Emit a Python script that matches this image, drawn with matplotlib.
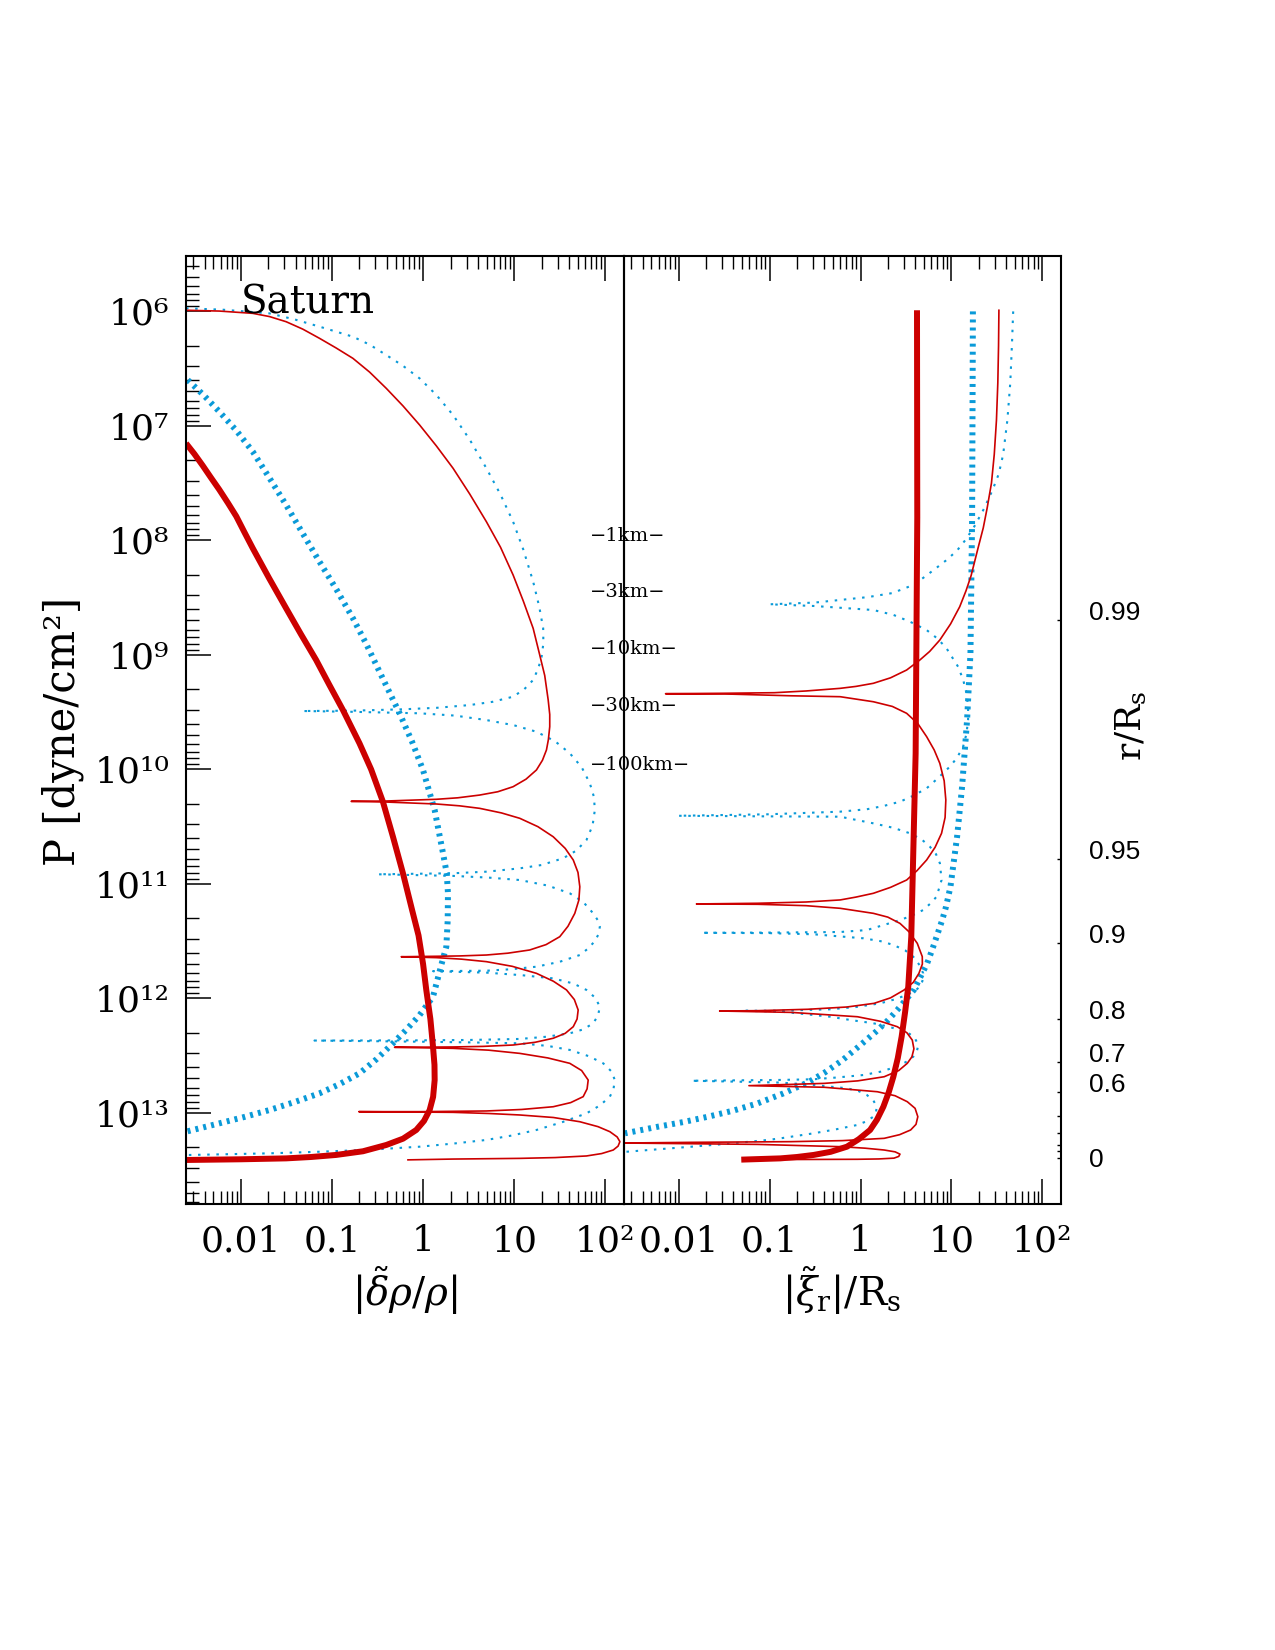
import matplotlib
matplotlib.use('Agg')
import matplotlib.pyplot as plt
import matplotlib.transforms as mtransforms
import numpy as np
from matplotlib.ticker import LogLocator, NullFormatter, NullLocator

plt.rcParams['font.family'] = 'DejaVu Serif'
plt.rcParams['mathtext.fontset'] = 'dejavuserif'

RED = '#cc0000'
BLUE = '#0a9ad8'

# ---- datos: log10 de la abscisa y log10 P [dyne/cm^2] ----
# panel izquierdo |delta rho / rho|
izq_grueso_rojo_x = [-2.602, -2.51, -2.42, -2.33, -2.238, -2.14, -2.05, -1.96, -1.869, -1.69,
                     -1.503, -1.34, -1.174, -1.03, -0.880, -0.698, -0.57, -0.441, -0.33, -0.221,
                     -0.12, -0.05, 0.0, 0.035, 0.08, 0.109, 0.125, 0.127, 0.11, 0.072,
                     0.01, -0.075, -0.22, -0.404, -0.66, -0.954, -1.23, -1.503, -2.0, -2.602]
izq_grueso_rojo_p = [7.152, 7.245, 7.345, 7.45, 7.555, 7.675, 7.79, 7.93, 8.069, 8.33,
                     8.593, 8.82, 9.044, 9.26, 9.481, 9.772, 10.0, 10.282, 10.59, 10.907,
                     11.23, 11.45, 11.70, 11.926, 12.18, 12.422, 12.58, 12.713, 12.86, 12.975,
                     13.07, 13.149, 13.225, 13.28, 13.335, 13.367, 13.385, 13.397, 13.405, 13.411]

izq_grueso_azul_x = [-2.583, -2.41, -2.236, -2.05, -1.869, -1.69, -1.503, -1.32, -1.137, -0.95,
                     -0.770, -0.62, -0.478, -0.258, -0.12, -0.001, 0.127, 0.219, 0.26, 0.273,
                     0.27, 0.255, 0.2, 0.109, -0.038, -0.18, -0.331, -0.51, -0.697, -0.92,
                     -1.137, -1.41, -1.687, -1.96, -2.236, -2.602]
izq_grueso_azul_p = [6.599, 6.73, 6.876, 7.04, 7.225, 7.45, 7.691, 7.94, 8.186, 8.43,
                     8.680, 8.91, 9.147, 9.510, 9.76, 10.005, 10.355, 10.733, 10.91, 11.082,
                     11.32, 11.548, 11.708, 11.985, 12.145, 12.27, 12.392, 12.53, 12.654, 12.75,
                     12.829, 12.905, 12.975, 13.035, 13.091, 13.164]

izq_fino_rojo_x = [-2.602, -2.236, -1.869, -1.686, -1.503, -1.32, -1.137, -0.953, -0.770, -0.587,
                   -0.404, -0.221, -0.038, 0.146, 0.329, 0.512, 0.695, 0.85, 0.988, 1.10,
                   1.208, 1.28, 1.335, 1.373, 1.39, 1.390, 1.375, 1.354, 1.31, 1.244,
                   1.13, 0.988, 0.82, 0.621, 0.38, 0.145, -0.404, -0.789,
                   -0.404, 0.145, 0.40, 0.621, 0.86, 1.061, 1.26, 1.428, 1.56, 1.648,
                   1.70, 1.720, 1.71, 1.665, 1.59, 1.5, 1.35, 1.170, 0.93, 0.695,
                   0.40, 0.145, -0.240,
                   0.145, 0.42, 0.695, 0.98, 1.244, 1.43, 1.574, 1.66, 1.702, 1.69,
                   1.648, 1.56, 1.428, 1.23, 0.988, 0.66, 0.329, -0.313,
                   0.329, 0.72, 1.061, 1.37, 1.610, 1.74, 1.812, 1.80, 1.757, 1.62,
                   1.428, 1.08, 0.695, -0.038, -0.705,
                   0.329, 0.72, 1.061, 1.43, 1.720, 1.92, 2.05, 2.13, 2.16, 2.14,
                   2.087, 1.96, 1.793, 1.45, 1.061, 0.329, -0.166]
izq_fino_rojo_p = [5.990, 5.997, 6.017, 6.045, 6.09, 6.155, 6.235, 6.32, 6.41, 6.53,
                   6.672, 6.825, 6.992, 7.175, 7.37, 7.595, 7.837, 8.06, 8.302, 8.53,
                   8.768, 9.0, 9.18, 9.394, 9.52, 9.627, 9.74, 9.830, 9.92, 10.005,
                   10.085, 10.151, 10.195, 10.224, 10.248, 10.261, 10.276, 10.279,
                   10.285, 10.302, 10.318, 10.34, 10.38, 10.427, 10.50, 10.588, 10.69, 10.791,
                   10.90, 11.025, 11.14, 11.257, 11.37, 11.461, 11.53, 11.577, 11.605, 11.621,
                   11.629, 11.632, 11.636,
                   11.644, 11.657, 11.679, 11.72, 11.781, 11.85, 11.926, 12.01, 12.101, 12.18,
                   12.247, 12.305, 12.348, 12.383, 12.407, 12.419, 12.424, 12.427,
                   12.436, 12.452, 12.48, 12.52, 12.567, 12.63, 12.713, 12.79, 12.858, 12.91,
                   12.946, 12.970, 12.983, 12.989, 12.989,
                   12.995, 13.005, 13.018, 13.04, 13.077, 13.12, 13.164, 13.21, 13.251, 13.29,
                   13.324, 13.355, 13.376, 13.39, 13.397, 13.403, 13.41]

izq_fino_azul_x = [-2.602, -2.2, -1.687, -1.41, -1.137, -0.770, -0.587, -0.404, -0.221, -0.038,
                   0.146, 0.329, 0.512, 0.695, 0.85, 0.988, 1.10, 1.208, 1.275, 1.318,
                   1.32, 1.30, 1.263, 1.208, 1.11, 0.988, 0.76, 0.511, 0.15, -0.221,
                   -0.770, -1.320,
                   -0.770, -0.038, 0.35, 0.695, 1.0, 1.244, 1.45, 1.610, 1.74, 1.830,
                   1.875, 1.885, 1.86, 1.793, 1.68, 1.537, 1.30, 1.061, 0.70, 0.329, -0.496,
                   0.329, 0.72, 1.061, 1.37, 1.610, 1.76, 1.867, 1.92, 1.940, 1.925,
                   1.885, 1.81, 1.72, 1.50, 1.244, 0.97, 0.695, 0.109,
                   0.695, 1.08, 1.428, 1.65, 1.793, 1.89, 1.94, 1.92, 1.867, 1.76,
                   1.61, 1.35, 1.061, 0.5, -0.038, -1.192,
                   -0.038, 0.5, 1.061, 1.37, 1.61, 1.82, 1.977, 2.07, 2.104, 2.09,
                   2.05, 1.94, 1.793, 1.53, 1.244, 0.97, 0.695, 0.33, -0.038, -0.6,
                   -1.137, -1.69, -2.236, -2.602]
izq_fino_azul_p = [5.973, 5.985, 6.017, 6.07, 6.133, 6.221, 6.29, 6.381, 6.475, 6.585,
                   6.73, 6.905, 7.12, 7.37, 7.60, 7.837, 8.08, 8.36, 8.58, 8.768,
                   8.9, 9.02, 9.12, 9.219, 9.30, 9.365, 9.41, 9.438, 9.462, 9.475,
                   9.487, 9.490,
                   9.497, 9.51, 9.53, 9.569, 9.615, 9.671, 9.755, 9.859, 9.98, 10.121,
                   10.24, 10.355, 10.49, 10.617, 10.71, 10.776, 10.835, 10.864, 10.893, 10.907, 10.916,
                   10.93, 10.945, 10.966, 11.015, 11.082, 11.16, 11.257, 11.32, 11.374, 11.44,
                   11.5, 11.565, 11.621, 11.68, 11.723, 11.745, 11.758, 11.762,
                   11.775, 11.797, 11.825, 11.87, 11.926, 11.995, 12.072, 12.15, 12.217, 12.27,
                   12.305, 12.335, 12.354, 12.363, 12.366, 12.368,
                   12.378, 12.384, 12.392, 12.415, 12.45, 12.505, 12.567, 12.64, 12.713, 12.79,
                   12.858, 12.935, 13.004, 13.08, 13.149, 13.198, 13.236, 13.268, 13.295, 13.322,
                   13.339, 13.353, 13.362, 13.368]

# panel derecho |xi_r| / R_s
der_grueso_rojo_x = [0.621, 0.624, 0.606, 0.558, 0.525, 0.49, 0.452, 0.41, 0.361, 0.31,
                     0.251, 0.18, 0.105, -0.02, -0.15, -0.33, -0.516, -0.70, -0.881, -1.312]
der_grueso_rojo_p = [5.99, 7.8, 9.86, 11.461, 11.897, 12.12, 12.334, 12.52, 12.684, 12.82,
                     12.946, 13.06, 13.149, 13.23, 13.295, 13.34, 13.367, 13.385, 13.397, 13.408]

der_grueso_azul_x = [1.236, 1.227, 1.209, 1.172, 1.117, 1.062, 0.989, 0.94, 0.898, 0.843,
                     0.79, 0.733, 0.66, 0.587, 0.50, 0.404, 0.29, 0.17, -0.02, -0.2,
                     -0.39, -0.57, -0.85, -1.13, -1.40, -1.678, -1.95, -2.226, -2.591]
der_grueso_azul_p = [6.0, 7.822, 8.986, 9.568, 10.151, 10.588, 11.025, 11.2, 11.316, 11.446,
                     11.57, 11.694, 11.81, 11.926, 12.01, 12.101, 12.2, 12.29, 12.42, 12.54,
                     12.645, 12.73, 12.83, 12.916, 12.98, 13.033, 13.08, 13.12, 13.178]

der_fino_rojo_x = [1.522, 1.518, 1.51, 1.495, 1.471, 1.44, 1.393, 1.35, 1.295, 1.216,
                   1.16, 1.091, 0.99, 0.872, 0.76, 0.653, 0.507, 0.33, 0.141, -0.05,
                   -0.224, -0.6, -0.947, -1.495, -2.145,
                   -1.495, -0.764, -0.224, 0.141, 0.35, 0.507, 0.63, 0.727, 0.81, 0.872,
                   0.92, 0.938, 0.93, 0.891, 0.82, 0.727, 0.62, 0.507, 0.33, 0.141,
                   -0.05, -0.224, -0.6, -1.13, -1.805,
                   -1.13, -0.6, -0.224, 0.141, 0.30, 0.434, 0.533, 0.624, 0.679, 0.68,
                   0.642, 0.58, 0.478, 0.33, 0.149, -0.15, -0.582, -1.13, -1.55,
                   -0.764, -0.034, 0.22, 0.404, 0.51, 0.569, 0.587, 0.565, 0.514, 0.42,
                   0.26, -0.03, -0.399, -1.228,
                   -0.399, 0.185, 0.38, 0.514, 0.60, 0.63, 0.61, 0.551, 0.43, 0.26,
                   -0.2, -0.764, -1.86, -2.6,
                   -1.13, -0.216, 0.05, 0.26, 0.38, 0.434, 0.42, 0.368, 0.2, -0.034,
                   -0.764, -0.9]
der_fino_rojo_p = [5.99, 6.3, 6.624, 6.95, 7.248, 7.50, 7.716, 7.89, 8.059, 8.308,
                   8.44, 8.579, 8.73, 8.87, 8.97, 9.044, 9.132, 9.2, 9.248, 9.275,
                   9.292, 9.315, 9.33, 9.335, 9.339,
                   9.341, 9.357, 9.365, 9.409, 9.45, 9.51, 9.60, 9.714, 9.83, 9.947,
                   10.10, 10.267, 10.42, 10.558, 10.68, 10.791, 10.885, 10.966, 11.03, 11.082,
                   11.115, 11.14, 11.158, 11.169, 11.175,
                   11.178, 11.19, 11.213, 11.257, 11.29, 11.345, 11.418, 11.519, 11.635, 11.70,
                   11.781, 11.86, 11.927, 11.995, 12.043, 12.075, 12.095, 12.107, 12.11,
                   12.122, 12.16, 12.2, 12.247, 12.30, 12.364, 12.44, 12.51, 12.567, 12.63,
                   12.684, 12.72, 12.742, 12.762,
                   12.776, 12.815, 12.85, 12.902, 12.96, 13.033, 13.10, 13.149, 13.19, 13.222,
                   13.242, 13.251, 13.257, 13.263,
                   13.275, 13.295, 13.308, 13.324, 13.34, 13.36, 13.38, 13.395, 13.402, 13.405,
                   13.407, 13.407]

der_fino_azul_x = [1.679, 1.665, 1.647, 1.615, 1.569, 1.52, 1.452, 1.36, 1.256, 1.16,
                   1.06, 0.94, 0.825, 0.591, 0.35, 0.082, -0.505, -1.0,
                   -0.505, 0.141, 0.36, 0.544, 0.727, 0.85, 0.946, 1.073, 1.13, 1.165,
                   1.183, 1.183, 1.165, 1.128, 1.06, 0.982, 0.86, 0.727, 0.58, 0.434,
                   0.25, 0.069, -0.224, -1.02, -2.007,
                   -1.02, -0.224, 0.141, 0.36, 0.544, 0.67, 0.763, 0.83, 0.873, 0.891,
                   0.836, 0.77, 0.689, 0.57, 0.434, 0.25, 0.069, -0.224, -1.0, -1.75,
                   -1.0, -0.516, 0.032, 0.22, 0.361, 0.49, 0.580, 0.65, 0.689, 0.68,
                   0.653, 0.59, 0.507, 0.37, 0.215, -0.05, -0.333, -0.881, -1.3,
                   -0.881, -0.333, -0.1, 0.141, 0.3, 0.434, 0.54, 0.598, 0.635, 0.62,
                   0.580, 0.50, 0.398, 0.22, 0.032, -0.25, -0.516, -0.881, -1.86,
                   -0.881, -0.516, -0.15, -0.02, 0.069, 0.14, 0.179, 0.17, 0.141, 0.06,
                   -0.04, -0.28, -0.516, -0.881, -1.02, -1.44, -1.86, -2.59]
der_fino_azul_p = [6.0, 6.3, 6.624, 6.95, 7.248, 7.42, 7.56, 7.72, 7.872, 7.99,
                   8.09, 8.175, 8.246, 8.386, 8.46, 8.495, 8.543, 8.558,
                   8.573, 8.608, 8.65, 8.71, 8.783, 8.86, 8.943, 9.103, 9.22, 9.335,
                   9.45, 9.568, 9.69, 9.802, 9.9, 9.976, 10.07, 10.165, 10.23, 10.282,
                   10.32, 10.348, 10.369, 10.392, 10.405,
                   10.41, 10.413, 10.471, 10.51, 10.558, 10.61, 10.675, 10.74, 10.82, 10.966,
                   11.112, 11.17, 11.228, 11.275, 11.316, 11.36, 11.403, 11.42, 11.425, 11.427,
                   11.43, 11.44, 11.475, 11.5, 11.533, 11.58, 11.636, 11.71, 11.781, 11.85,
                   11.897, 11.94, 11.970, 12.01, 12.043, 12.075, 12.095, 12.107, 12.108,
                   12.115, 12.16, 12.19, 12.217, 12.245, 12.276, 12.31, 12.348, 12.407, 12.46,
                   12.509, 12.555, 12.596, 12.64, 12.669, 12.69, 12.706, 12.712, 12.719,
                   12.735, 12.756, 12.785, 12.81, 12.843, 12.89, 12.946, 12.99, 13.033, 13.075,
                   13.106, 13.145, 13.178, 13.222, 13.236, 13.268, 13.295, 13.34]

# ejes y etiquetas
x_ticks = [0.01, 0.1, 1, 10, 100]
x_etiquetas = ['0.01', '0.1', '1', '10', '10²']
p_decadas = [6, 7, 8, 9, 10, 11, 12, 13]
p_etiquetas = ['10⁶', '10⁷', '10⁸', '10⁹', '10¹⁰', '10¹¹', '10¹²', '10¹³']
r_ticks_p = [8.691, 10.780, 11.514, 12.177, 12.555, 12.817, 13.024, 13.179, 13.282, 13.334, 13.393]
r_etiquetas = ['0.99', '0.95', '0.9', '0.8', '0.7', '0.6', '', '', '', '', '0']
km_etiquetas = ['−1km−', '−3km−', '−10km−', '−30km−', '−100km−']
km_p = [7.96, 8.45, 8.95, 9.45, 9.96]

W, H = 1275, 1650
fig = plt.figure(figsize=(W / 100, H / 100), dpi=100)
abajo = 1 - 1203.6 / H
alto = 947.9 / H
axL = fig.add_axes([186 / W, abajo, 438 / W, alto])
axR = fig.add_axes([624 / W, abajo, 437 / W, alto])
axR.set_facecolor('none')

for ax in (axL, axR):
    ax.set_xscale('log')
    ax.set_yscale('log')
    ax.set_xlim(10 ** -2.602, 10 ** 2.205)
    ax.set_ylim(10 ** 13.792, 10 ** 5.5135)
    for s in ax.spines.values():
        s.set_linewidth(1.5)
    ax.set_xticks(x_ticks, x_etiquetas)
    ax.xaxis.set_minor_locator(LogLocator(base=10, subs=np.arange(2, 10) * 1.0, numticks=60))
    ax.xaxis.set_minor_formatter(NullFormatter())
    ax.tick_params(axis='x', which='both', direction='in', top=True, bottom=True)
    ax.tick_params(axis='x', which='major', length=18, width=1.1, labelsize=26, pad=15)
    ax.tick_params(axis='x', which='minor', length=9.4, width=1.0)

# eje P (izquierda)
axL.set_yticks([10.0 ** d for d in p_decadas], p_etiquetas)
axL.yaxis.set_minor_locator(LogLocator(base=10, subs=np.arange(2, 10) * 1.0, numticks=60))
axL.yaxis.set_minor_formatter(NullFormatter())
axL.tick_params(axis='y', which='both', direction='in', left=True, right=False)
axL.tick_params(axis='y', which='major', length=18, width=1.1, labelsize=26, pad=12)
axL.tick_params(axis='y', which='minor', length=9.4, width=1.0)

# eje r/R_s (derecha)
axR.set_yticks([10 ** v for v in r_ticks_p], r_etiquetas)
axR.yaxis.set_minor_locator(NullLocator())
axR.tick_params(axis='y', which='major', direction='in', left=False, right=True,
                labelleft=False, labelright=True, length=3, width=1.0, pad=20)
desplaza = mtransforms.ScaledTranslation(0, 9 / 100, fig.dpi_scale_trans)
for tick in axR.yaxis.get_major_ticks():
    lab = tick.label2
    lab.set_fontfamily('Liberation Sans')
    lab.set_fontsize(19)
    if lab.get_text() != '0':
        lab.set_transform(lab.get_transform() + desplaza)

# curvas
fino_punteado = (0, (1.2, 3.2))
grueso_punteado = (0, (0.5, 0.85))

axL.plot(10 ** np.array(izq_fino_azul_x), 10 ** np.array(izq_fino_azul_p), color=BLUE,
         lw=1.5, ls=fino_punteado, dash_capstyle='butt')
axL.plot(10 ** np.array(izq_grueso_azul_x), 10 ** np.array(izq_grueso_azul_p), color=BLUE,
         lw=4.3, ls=grueso_punteado, dash_capstyle='butt')
axL.plot(10 ** np.array(izq_fino_rojo_x), 10 ** np.array(izq_fino_rojo_p), color=RED, lw=1.2)
axL.plot(10 ** np.array(izq_grueso_rojo_x), 10 ** np.array(izq_grueso_rojo_p), color=RED,
         lw=4.3, solid_capstyle='butt')

axR.plot(10 ** np.array(der_fino_azul_x), 10 ** np.array(der_fino_azul_p), color=BLUE,
         lw=1.5, ls=fino_punteado, dash_capstyle='butt')
axR.plot(10 ** np.array(der_grueso_azul_x), 10 ** np.array(der_grueso_azul_p), color=BLUE,
         lw=4.3, ls=grueso_punteado, dash_capstyle='butt')
axR.plot(10 ** np.array(der_fino_rojo_x), 10 ** np.array(der_fino_rojo_p), color=RED, lw=1.2)
axR.plot(10 ** np.array(der_grueso_rojo_x), 10 ** np.array(der_grueso_rojo_p), color=RED,
         lw=4.3, solid_capstyle='butt')

# textos
axL.text(0.0101, 10 ** 6.02, 'Saturn', fontsize=28, va='baseline', ha='left')
for txt, lp in zip(km_etiquetas, km_p):
    axL.text(67, 10 ** lp, txt, fontsize=14, va='center', ha='left', clip_on=False, zorder=5)

fig.text(63 / W, 1 - 731 / H, 'P [dyne/cm²]', fontsize=30, rotation=90, ha='center', va='center')
fig.text(405 / W, 1 - 1291 / H, r'$|\tilde{\delta}\rho/\rho|$', fontsize=28, ha='center', va='center')
fig.text(842 / W, 1 - 1291 / H, r'$|\tilde{\xi}_{\mathrm{r}}|/\mathrm{R}_{\mathrm{s}}$', fontsize=28,
         ha='center', va='center')
fig.text(1131 / W, 1 - 726 / H, r'$\mathrm{r}/\mathrm{R}_{\mathrm{s}}$', fontsize=26, rotation=90,
         ha='center', va='center')

fig.savefig('out.png', dpi=100, facecolor='white')
